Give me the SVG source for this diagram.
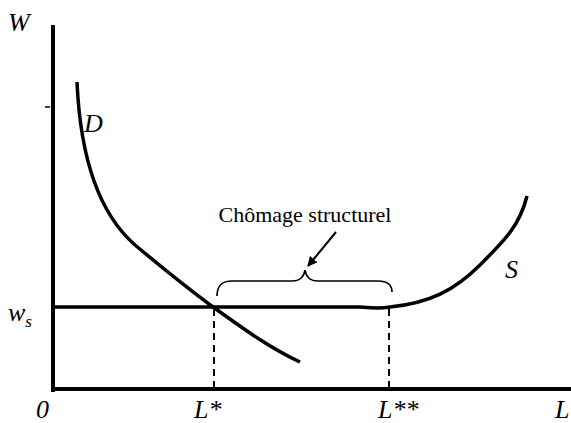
<svg xmlns="http://www.w3.org/2000/svg" width="571" height="423" viewBox="0 0 571 423">
<style>
.ax{stroke:#000;stroke-width:4;fill:none}
.cv{stroke:#000;stroke-width:3.5;fill:none;stroke-linecap:butt}
.ds{stroke:#000;stroke-width:2;stroke-dasharray:7,5;fill:none}
.lb{font-family:"Liberation Serif",serif;font-style:italic;font-size:26px;fill:#000}
.tx{font-family:"Liberation Serif",serif;font-size:22px;fill:#000}
</style>
<defs>
<marker id="ah" viewBox="0 0 10 10" refX="9" refY="5" markerWidth="5" markerHeight="5" orient="auto" markerUnits="strokeWidth">
<path d="M0,0 L10,5 L0,10 z" fill="#000"/>
</marker>
</defs>
<g id="axes">
<path class="ax" d="M53,25 V392"/>
<path class="ax" d="M51,389 H571"/>
<path d="M45,107 H50" stroke="#000" stroke-width="1.5"/>
</g>
<g id="curves">
<path class="cv" d="M77,82 C80,150 95,210 135,245 C165,270 190,290 213,307 C245,330 270,348 300,362"/>
<path class="cv" d="M53,307 H360 C372,308 380,309 390,307 C430,303 455,290 480,265 C505,240 520,225 527,196"/>
</g>
<g id="connectors">
<path class="ds" d="M214,309 V388"/>
<path class="ds" d="M389,309 V388"/>
<path d="M217,296 C217,285 222,281 232,281 H292 C300,281 304,277 305,270 C306,277 310,281 318,281 H378 C388,281 392,285 392,292" stroke="#000" stroke-width="1.7" fill="none"/>
<path d="M336,232 L308,266" stroke="#000" stroke-width="2" marker-end="url(#ah)"/>
</g>
<g id="labels">
<text class="lb" x="8" y="31">W</text>
<text class="lb" x="84" y="132">D</text>
<text class="lb" x="505" y="278">S</text>
<text class="lb" x="8" y="321">w<tspan font-size="17" dy="6">s</tspan></text>
<text class="lb" x="36" y="418">0</text>
<text class="lb" x="194" y="418">L*</text>
<text class="lb" x="378" y="418">L**</text>
<text class="lb" x="555" y="418">L</text>
<text class="tx" x="305" y="222" text-anchor="middle">Chômage structurel</text>
</g>
</svg>
